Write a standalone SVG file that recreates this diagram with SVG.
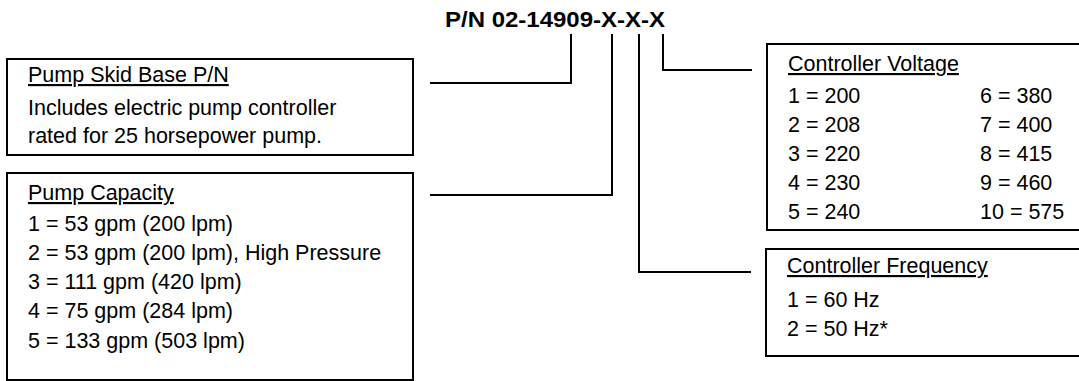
<svg xmlns="http://www.w3.org/2000/svg" width="1079" height="381" viewBox="0 0 1079 381">
<style>
.box{fill:#fff;stroke:#000;stroke-width:2}
.conn{fill:none;stroke:#000;stroke-width:2}
text{font-family:"Liberation Sans",Arial,sans-serif;font-size:21.5px;fill:#000}
.title{font-weight:bold;font-size:22px}
.hd{text-decoration:underline}
</style>
<rect width="1079" height="381" fill="#fff"/>
<text class="title" x="445" y="27" textLength="220" lengthAdjust="spacingAndGlyphs">P/N 02-14909-X-X-X</text>
<g id="connectors">
<polyline class="conn" points="430,83 571,83 571,34"/>
<polyline class="conn" points="430,195 612,195 612,34"/>
<polyline class="conn" points="751,272 639,272 639,34"/>
<polyline class="conn" points="752,70 663,70 663,34"/>
</g>
<g id="skid">
<rect class="box" x="7" y="59" width="406" height="96"/>
<text class="hd" x="28" y="82">Pump Skid Base P/N</text>
<text x="28" y="115">Includes electric pump controller</text>
<text x="28" y="143">rated for 25 horsepower pump.</text>
</g>
<g id="capacity">
<rect class="box" x="7" y="173" width="406" height="207"/>
<text class="hd" x="28" y="200">Pump Capacity</text>
<text x="28" y="231">1 = 53 gpm (200 lpm)</text>
<text x="28" y="260">2 = 53 gpm (200 lpm), High Pressure</text>
<text x="28" y="289">3 = 111 gpm (420 lpm)</text>
<text x="28" y="318">4 = 75 gpm (284 lpm)</text>
<text x="28" y="348">5 = 133 gpm (503 lpm)</text>
</g>
<g id="voltage">
<rect class="box" x="767" y="44" width="330" height="186"/>
<text class="hd" x="788" y="71">Controller Voltage</text>
<text x="788" y="103">1 = 200</text>
<text x="788" y="132">2 = 208</text>
<text x="788" y="161">3 = 220</text>
<text x="788" y="190">4 = 230</text>
<text x="788" y="219">5 = 240</text>
<text x="980" y="103">6 = 380</text>
<text x="980" y="132">7 = 400</text>
<text x="980" y="161">8 = 415</text>
<text x="980" y="190">9 = 460</text>
<text x="980" y="219">10 = 575</text>
</g>
<g id="frequency">
<rect class="box" x="766" y="249" width="330" height="107"/>
<text class="hd" x="787" y="273">Controller Frequency</text>
<text x="787" y="307">1 = 60 Hz</text>
<text x="787" y="336">2 = 50 Hz*</text>
</g>
</svg>
